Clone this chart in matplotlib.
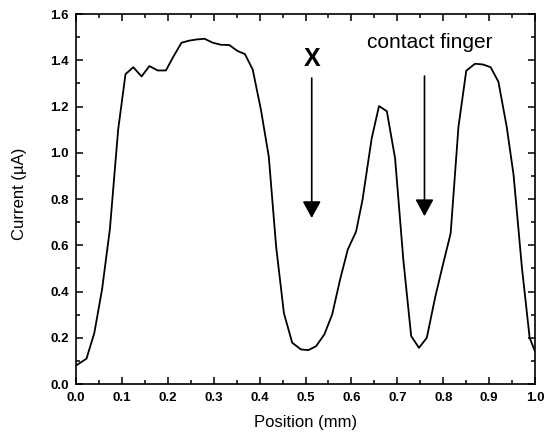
import matplotlib
matplotlib.use("Agg")
import matplotlib.pyplot as plt
from matplotlib.ticker import MultipleLocator

plt.rcParams['font.family'] = ['Liberation Sans', 'DejaVu Sans']

# posição (mm) e corrente (uA)
position = [0.0, 0.023, 0.04, 0.057, 0.074, 0.092, 0.108, 0.125, 0.143, 0.16,
            0.178, 0.196, 0.212, 0.23, 0.247, 0.263, 0.28, 0.298, 0.316, 0.334,
            0.352, 0.368, 0.385, 0.403, 0.42, 0.436, 0.453, 0.471, 0.49, 0.506,
            0.523, 0.541, 0.558, 0.575, 0.592, 0.61, 0.624, 0.644, 0.66, 0.677,
            0.695, 0.713, 0.73, 0.747, 0.764, 0.782, 0.799, 0.816, 0.833, 0.85,
            0.869, 0.886, 0.903, 0.92, 0.938, 0.953, 0.971, 0.988, 1.0]
current = [0.08, 0.11, 0.22, 0.41, 0.67, 1.10, 1.34, 1.37, 1.33, 1.375,
           1.356, 1.356, 1.415, 1.476, 1.485, 1.49, 1.493, 1.476, 1.467, 1.466,
           1.44, 1.427, 1.36, 1.185, 0.983, 0.594, 0.306, 0.179, 0.15, 0.147,
           0.164, 0.215, 0.301, 0.45, 0.582, 0.659, 0.796, 1.062, 1.202, 1.18,
           0.976, 0.536, 0.208, 0.157, 0.2, 0.373, 0.515, 0.652, 1.113, 1.355,
           1.385, 1.382, 1.37, 1.307, 1.113, 0.904, 0.507, 0.2, 0.14]

fig = plt.figure(figsize=(5.54, 4.38), dpi=100)
ax = fig.add_axes([0.137, 0.123, 0.829, 0.845])

ax.plot(position, current, color="black", lw=1.3)

ax.set_xlim(0, 1.0)
ax.set_ylim(0, 1.6)
ax.xaxis.set_major_locator(MultipleLocator(0.1))
ax.xaxis.set_minor_locator(MultipleLocator(0.05))
ax.yaxis.set_major_locator(MultipleLocator(0.2))
ax.yaxis.set_minor_locator(MultipleLocator(0.1))
ax.xaxis.set_major_formatter(plt.FormatStrFormatter('%.1f'))
ax.yaxis.set_major_formatter(plt.FormatStrFormatter('%.1f'))

ax.tick_params(which='both', direction='in', top=True, right=True, width=1.1)
ax.tick_params(which='major', length=5, labelsize=9.5)
ax.tick_params(which='minor', length=3)
ax.tick_params(axis='x', which='major', pad=6)
ax.tick_params(axis='y', which='major', pad=5)
for lab in ax.get_xticklabels() + ax.get_yticklabels():
    lab.set_fontweight('bold')
for s in ax.spines.values():
    s.set_linewidth(1.2)

ax.set_xlabel("Position (mm)", fontsize=12)
ax.set_ylabel("Current (µA)", fontsize=12)
ax.xaxis.set_label_coords(0.5, -0.103)
ax.xaxis.label.set_va('center')
ax.yaxis.set_label_coords(-0.123, 0.514)
ax.yaxis.label.set_va('center')

# setas e textos
seta = dict(arrowstyle="-|>,head_length=0.57,head_width=0.31", color="black",
            lw=1.2, mutation_scale=18, shrinkA=0, shrinkB=0)
ax.annotate("", xy=(0.5135, 0.718), xytext=(0.5135, 1.323), arrowprops=seta)
ax.annotate("", xy=(0.759, 0.726), xytext=(0.759, 1.332), arrowprops=seta)
ax.text(0.514, 1.405, "X", fontsize=18, fontweight="bold", ha="center", va="center")
ax.text(0.770, 1.479, "contact finger", fontsize=15, ha="center", va="center")

fig.savefig("out.png", dpi=100)
